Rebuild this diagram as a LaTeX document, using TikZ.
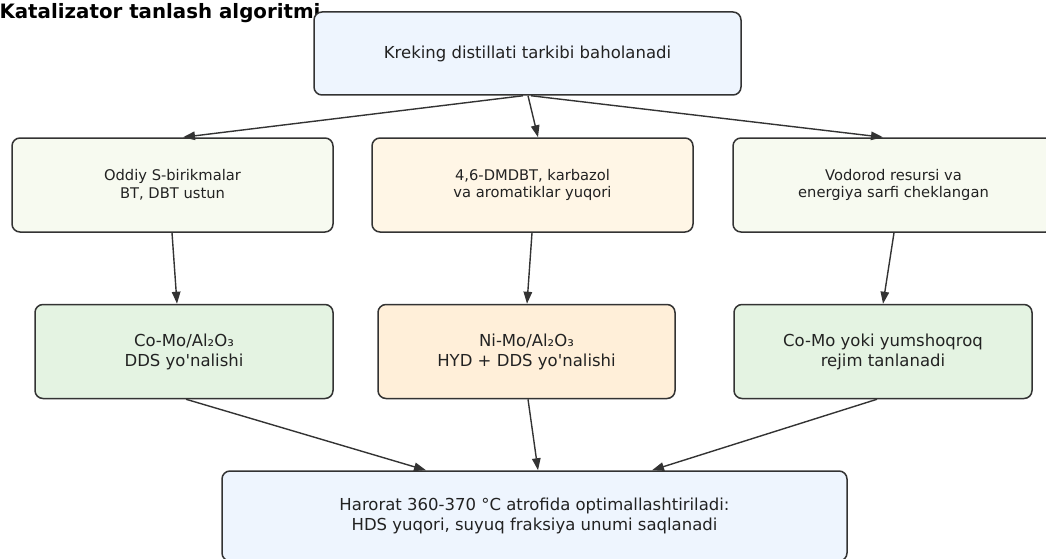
\documentclass[tikz,border=0pt]{standalone}
\usepackage{fontspec}
\setmainfont{DejaVu Sans}[Ligatures=TeXOff]
\usetikzlibrary{arrows.meta,calc}
\definecolor{bord}{HTML}{333333}
\definecolor{txt}{HTML}{222222}
\definecolor{cblue}{HTML}{EEF5FE}
\definecolor{ccream}{HTML}{F7FAF0}
\definecolor{corange}{HTML}{FFF6E6}
\definecolor{cgreen}{HTML}{E4F3E2}
\definecolor{corange2}{HTML}{FFEFD9}
\begin{document}
\begin{tikzpicture}[x=1pt,y=-1pt,
  box/.style={draw=bord, line width=1.5pt, rounded corners=8pt, inner sep=0pt, align=center, text=txt},
  fa/.style={font=\fontsize{16.5}{20}\selectfont},
  fb/.style={font=\fontsize{14.7}{17.5}\selectfont},
  arr/.style={draw=bord, line width=1.4pt, -{Triangle[length=12pt,width=8.5pt]}}]
\useasboundingbox (0,0) rectangle (1046,559);
\node[anchor=base west, text=black, font=\bfseries\fontsize{19.8}{23}\selectfont] (title) at (-4,19) {Katalizator tanlash algoritmi};

\node[box, fa, fill=cblue, minimum width=427pt, minimum height=83pt] (top) at (527.5,53.5) {Kreking distillati tarkibi baholanadi};

\node[box, fb, fill=ccream, minimum width=321pt, minimum height=94pt] (l2) at (172.5,185) {Oddiy S-birikmalar\\BT, DBT ustun};
\node[box, fb, fill=corange, minimum width=321pt, minimum height=94pt] (m2) at (532.5,185) {4,6-DMDBT, karbazol\\va aromatiklar yuqori};
\node[box, fb, fill=ccream, minimum width=321pt, minimum height=94pt] (r2) at (893.5,185) {Vodorod resursi va\\energiya sarfi cheklangan};

\node[box, fa, fill=cgreen, minimum width=298pt, minimum height=94pt] (l3) at (184,351.5) {Co-Mo/Al₂O₃\\DDS yo'nalishi};
\node[box, fa, fill=corange2, minimum width=297pt, minimum height=94pt] (m3) at (526.5,351.5) {Ni-Mo/Al₂O₃\\HYD + DDS yo'nalishi};
\node[box, fa, fill=cgreen, minimum width=298pt, minimum height=94pt] (r3) at (883,351.5) {Co-Mo yoki yumshoqroq\\rejim tanlanadi};

\node[box, fa, fill=cblue, minimum width=625pt, minimum height=90pt] (bot) at (534.5,516) {Harorat 360-370 °C atrofida optimallashtiriladi:\\HDS yuqori, suyuq fraksiya unumi saqlanadi};

\draw[arr] ([xshift=-4.5pt]top.south) -- ([xshift=10.5pt]l2.north);
\draw[arr] ([xshift=0.5pt]top.south) -- ([xshift=5.5pt]m2.north);
\draw[arr] ([xshift=3.5pt]top.south) -- ([xshift=-10.5pt]r2.north);

\draw[arr] ([xshift=-0.5pt]l2.south) -- ([xshift=-7pt]l3.north);
\draw[arr] ([xshift=-0.5pt]m2.south) -- ([xshift=0.5pt]m3.north);
\draw[arr] ([xshift=0.5pt]r2.south) -- (r3.north);

\draw[arr] ([xshift=2pt]l3.south) -- ([xshift=-108.5pt]bot.north);
\draw[arr] ([xshift=1.5pt]m3.south) -- ([xshift=3.5pt]bot.north);
\draw[arr] ([xshift=-6pt]r3.south) -- ([xshift=117.5pt]bot.north);
\end{tikzpicture}
\end{document}
